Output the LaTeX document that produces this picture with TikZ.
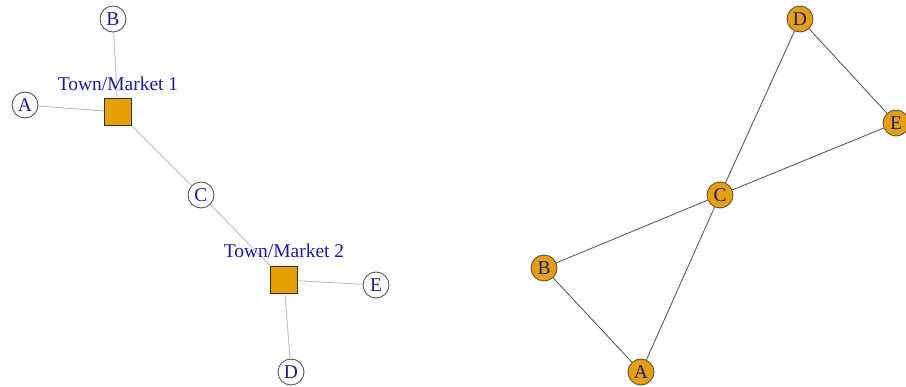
\documentclass[tikz,border=0pt]{standalone}
\usepackage{fontspec}
\setmainfont{Liberation Serif}
\definecolor{nodeor}{HTML}{E69F00}
\definecolor{labblue}{HTML}{1A1A9A}
\definecolor{ltedge}{HTML}{BDBDBD}
\definecolor{dkedge}{HTML}{4D4D4D}
\definecolor{bord}{HTML}{555555}
\begin{document}
\begin{tikzpicture}[x=1pt,y=-1pt,
  vtx/.style={circle,draw=bord,line width=0.9pt,minimum size=26pt,inner sep=0pt,text=labblue,font=\fontsize{19.5}{19.5}\selectfont},
  wvtx/.style={vtx,fill=white},
  ovtx/.style={vtx,fill=nodeor},
  town/.style={rectangle,draw=black!80,line width=0.9pt,fill=nodeor,minimum size=27pt,inner sep=0pt},
  tlab/.style={text=labblue,font=\fontsize{19.5}{19.5}\selectfont,inner sep=0pt},
  ledge/.style={draw=ltedge,line width=0.9pt},
  dedge/.style={draw=dkedge,line width=0.8pt}]
\useasboundingbox (0,0) rectangle (906,387);
% left graph
\node[town] (T1) at (118,112) {};
\node[town] (T2) at (284,280) {};
\node[wvtx] (lB) at (113,19) {B};
\node[wvtx] (lA) at (25,105) {A};
\node[wvtx] (lC) at (201,195) {C};
\node[wvtx] (lE) at (376,285) {E};
\node[wvtx] (lD) at (291,372) {D};
\draw[ledge] (lB) -- (T1);
\draw[ledge] (lA) -- (T1);
\draw[ledge] (T1) -- (lC);
\draw[ledge] (lC) -- (T2);
\draw[ledge] (T2) -- (lE);
\draw[ledge] (T2) -- (lD);
\node[tlab] (L1) at (118,84) {Town/Market 1};
\node[tlab] (L2) at (284,251) {Town/Market 2};
% right graph
\node[ovtx] (rD) at (800,19) {D};
\node[ovtx] (rE) at (896,123) {E};
\node[ovtx] (rC) at (720,195) {C};
\node[ovtx] (rB) at (544,268) {B};
\node[ovtx] (rA) at (641,372) {A};
\draw[dedge] (rD) -- (rE);
\draw[dedge] (rD) -- (rC);
\draw[dedge] (rE) -- (rC);
\draw[dedge] (rC) -- (rB);
\draw[dedge] (rC) -- (rA);
\draw[dedge] (rB) -- (rA);
\end{tikzpicture}
\end{document}
